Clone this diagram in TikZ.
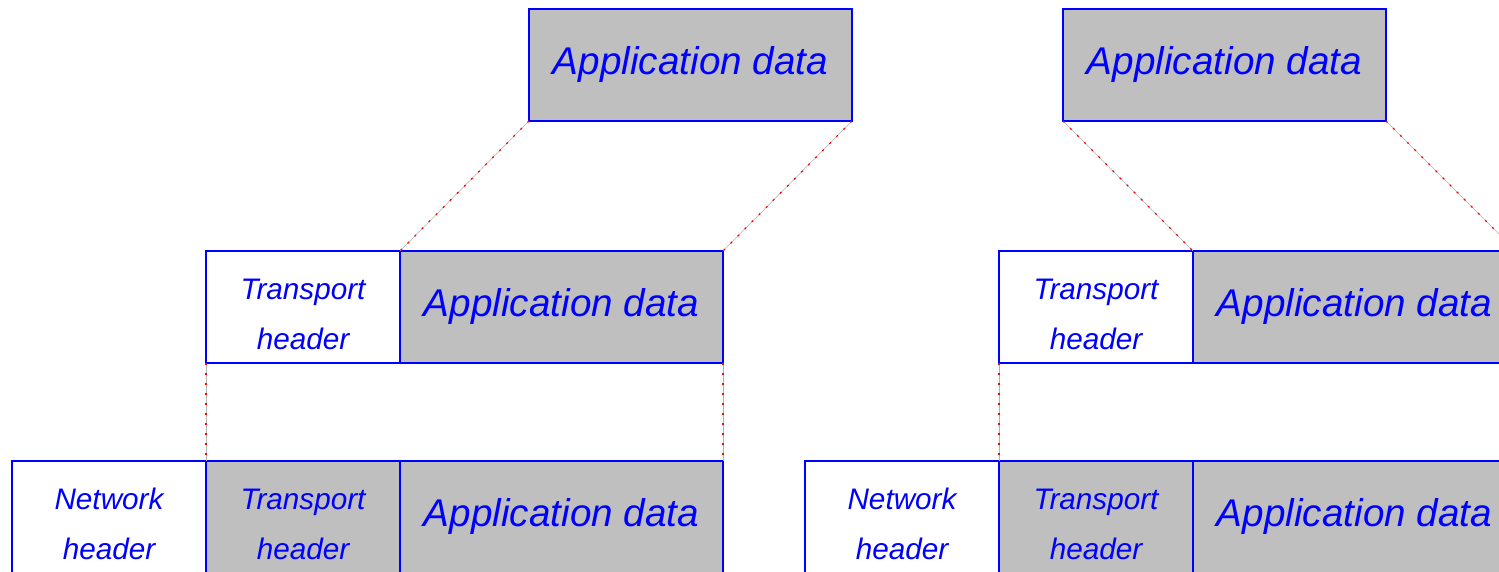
\documentclass[tikz,border=0pt]{standalone}
\usepackage{fontspec}
\setmainfont{Liberation Sans}
\usetikzlibrary{positioning}

% two-line header label, pushed down a little inside its box
\newcommand{\hdrtext}[2]{\rule{0pt}{0.71cm}#1\\#2}

\begin{document}
\begin{tikzpicture}[
    header/.style={rectangle, draw=blue, line width=1pt, fill=white, text=blue,
        inner sep=0pt, outer sep=0pt,
        minimum width=3.88cm, minimum height=2.24cm, align=center,
        font=\fontsize{16.9}{28.5}\selectfont\itshape},
    hdrgray/.style={header, fill=gray!50},
    appdata/.style={rectangle, draw=blue, line width=1pt, fill=gray!50, text=blue,
        inner sep=0pt, outer sep=0pt,
        minimum width=6.46cm, minimum height=2.24cm, align=center,
        font=\fontsize{22}{26}\selectfont\itshape},
    link/.style={gray!60, line width=0.3pt,
        postaction={draw=red, line width=0.7pt, dash pattern=on 1.2pt off 4.5pt}}
]
\useasboundingbox (0,0) rectangle (29.98,-11.44);

% left stack
\node[header, anchor=north west] (nh1) at (0.24,-9.22) {\hdrtext{Network}{header}};
\node[hdrgray, right=0pt of nh1] (bt1) {\hdrtext{Transport}{header}};
\node[appdata, right=0pt of bt1] (ba1) {Application data};
\node[header, above=1.96cm of bt1] (tt1) {\hdrtext{Transport}{header}};
\node[appdata, right=0pt of tt1] (ma1) {Application data};
\node[appdata, above=2.6cm of ma1, xshift=2.58cm] (ta1) {Application data};

% right stack
\node[header, anchor=north west] (nh2) at (16.10,-9.22) {\hdrtext{Network}{header}};
\node[hdrgray, right=0pt of nh2] (bt2) {\hdrtext{Transport}{header}};
\node[appdata, right=0pt of bt2] (ba2) {Application data};
\node[header, above=1.96cm of bt2] (tt2) {\hdrtext{Transport}{header}};
\node[appdata, right=0pt of tt2] (ma2) {Application data};
\node[appdata, above=2.6cm of ma2, xshift=-2.6cm] (ta2) {Application data};

% encapsulation guides
\draw[link] (ta1.south west) -- (ma1.north west);
\draw[link] (ta1.south east) -- (ma1.north east);
\draw[link] (tt1.south west) -- (bt1.north west);
\draw[link] (ma1.south east) -- (ba1.north east);

\draw[link] (ta2.south west) -- (ma2.north west);
\draw[link] (ta2.south east) -- (ma2.north east);
\draw[link] (tt2.south west) -- (bt2.north west);
\draw[link] (ma2.south east) -- (ba2.north east);

\end{tikzpicture}
\end{document}
